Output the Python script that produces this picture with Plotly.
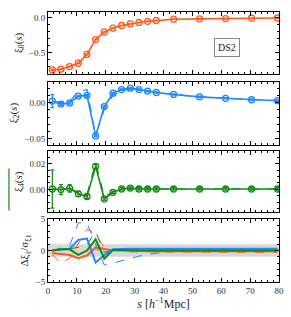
import plotly.graph_objects as go

s = [1.5, 4.5, 7.5, 10.5, 13.5, 16.5, 19.5, 22.5, 25.5, 28.5, 31.5, 34.5, 37.5, 43.5, 52.5, 61.5, 70.5, 79.5]

xi0 = [-0.753, -0.743, -0.705, -0.657, -0.529, -0.314, -0.204, -0.147, -0.110, -0.086, -0.067, -0.050, -0.038, -0.019, -0.014, -0.010, -0.005, -0.002]
xi0_err = [0.01, 0.006, 0.005, 0.004, 0.004, 0.003, 0.003, 0.002, 0.002, 0.002, 0.002, 0.002, 0.001, 0.001, 0.001, 0.001, 0.001, 0.001]

xi2 = [0.0022, -0.002, -0.0005, 0.009, 0.010, -0.046, -0.0055, 0.013, 0.018, 0.020, 0.018, 0.016, 0.014, 0.0113, 0.008, 0.006, 0.004, 0.0027]
xi2_err = [0.009, 0.002, 0.0015, 0.0012, 0.001, 0.001, 0.001, 0.001, 0.001, 0.001, 0.001, 0.001, 0.001, 0.001, 0.001, 0.001, 0.001, 0.001]
xi2_alt = [0.0022, 0.0, 0.001, 0.016, 0.018, -0.045, -0.009, 0.010, 0.016, 0.019, 0.018, 0.016, 0.014, 0.0113, 0.008, 0.006, 0.004, 0.0027]

xi4 = [0.0003, -0.0002, 0.0008, -0.0035, -0.0056, 0.018, -0.0074, -0.0023, 0.0003, 0.001, 0.0003, 0.0003, 0.0003, 0.0003, 0.0003, 0.0003, 0.0003, 0.0003]
xi4_err = [0.015, 0.004, 0.003, 0.002, 0.0015, 0.0015, 0.001, 0.001, 0.001, 0.001, 0.001, 0.001, 0.001, 0.001, 0.001, 0.001, 0.001, 0.001]
xi4_alt = [0.0003, -0.0001, 0.001, -0.0025, -0.004, 0.021, -0.006, -0.002, 0.0003, 0.001, 0.0003, 0.0003, 0.0003, 0.0003, 0.0003, 0.0003, 0.0003, 0.0003]

d0_solid = [-0.4, -0.5, -0.7, -1.2, -0.8, 0.5, 0.2, 0.0, 0.0, -0.05, -0.05, -0.05, -0.1, -0.1, -0.1, -0.1, -0.1, -0.1]
d0_dash = [-0.6, -2.1, -1.2, 1.2, 3.4, 2.6, 0.5, 0.1, -0.1, -0.2, -0.2, -0.2, -0.3, -0.3, -0.3, -0.3, -0.3, -0.3]
d2_solid = [0.0, 0.1, 0.3, 1.7, 1.9, -1.9, -0.7, 0.2, 0.3, 0.3, 0.3, 0.3, 0.3, 0.3, 0.3, 0.3, 0.3, 0.3]
d2_dash = [0.0, 0.4, 0.8, 4.4, 4.4, 1.0, -2.3, -2.0, -1.6, -1.2, -0.9, -0.6, -0.4, -0.1, 0.1, 0.2, 0.2, 0.2]
d4_solid = [0.0, 0.2, 0.2, -0.7, 0.0, 1.8, -1.3, 0.1, 0.1, 0.0, 0.0, 0.0, 0.0, 0.0, 0.0, 0.0, 0.0, 0.0]
d4_dash = [0.0, 0.1, 0.3, 0.5, 0.9, 3.0, -0.3, 0.2, 0.0, 0.0, 0.0, 0.0, 0.0, 0.0, 0.0, 0.0, 0.0, 0.0]

x_ticks = [0, 10, 20, 30, 40, 50, 60, 70, 80]

ORANGE = "#ff5a1f"
BLUE = "#1e88ff"
GREEN = "#138a13"
FONT = "Liberation Serif"

fig = go.Figure()

def data_trace(y, err, color, xa, ya):
    return go.Scatter(x=s, y=y, mode="lines+markers", xaxis=xa, yaxis=ya,
                      line=dict(color=color, width=1.6),
                      marker=dict(symbol="circle-open", size=6, color=color, line=dict(width=1.3, color=color)),
                      error_y=dict(type="data", array=err, color=color, thickness=1.2, width=2),
                      showlegend=False)

def dash_trace(y, color, xa, ya, width=1.2):
    return go.Scatter(x=s, y=y, mode="lines", xaxis=xa, yaxis=ya,
                      line=dict(color=color, width=width, dash="dash"), showlegend=False)

fig.add_trace(data_trace(xi0, xi0_err, ORANGE, "x", "y"))
fig.add_trace(dash_trace(xi2_alt, BLUE, "x2", "y2"))
fig.add_trace(data_trace(xi2, xi2_err, BLUE, "x2", "y2"))
fig.add_trace(dash_trace(xi4_alt, GREEN, "x3", "y3"))
fig.add_trace(data_trace(xi4, xi4_err, GREEN, "x3", "y3"))

for yv, c in [(d0_dash, ORANGE), (d2_dash, BLUE), (d4_dash, GREEN)]:
    fig.add_trace(dash_trace(yv, c, "x4", "y4", width=1.0))
for yv, c in [(d0_solid, ORANGE), (d2_solid, BLUE), (d4_solid, GREEN)]:
    fig.add_trace(go.Scatter(x=s, y=yv, mode="lines", xaxis="x4", yaxis="y4",
                             line=dict(color=c, width=2), showlegend=False))

fig.add_shape(type="rect", xref="x4", yref="y4", x0=0, x1=80, y0=-1, y1=1,
              fillcolor="#d8d8d8", line=dict(width=0), layer="below")
# stray green bar at far left of the xi4 panel
fig.add_shape(type="line", xref="paper", yref="paper", x0=-0.169, x1=-0.169, y0=0.265, y1=0.42,
              line=dict(color=GREEN, width=1.2))

tickfont = dict(family=FONT, size=9, color="#333")
common = dict(showline=True, linecolor="black", linewidth=1, mirror="ticks",
              ticks="inside", ticklen=4, tickcolor="black", showgrid=False, zeroline=False,
              tickfont=tickfont)

def yax(domain, rng, dtick, minor_d, title, xa, fmt):
    return dict(domain=domain, range=rng, dtick=dtick, anchor=xa, tickformat=fmt,
                minor=dict(dtick=minor_d, ticks="inside", ticklen=2, tickcolor="black"),
                title=dict(text=title, font=dict(family=FONT, size=11, color="#222"), standoff=4),
                **common)

def xax(ya, labels):
    d = dict(domain=[0, 1], range=[0, 80], tickmode="array", tickvals=x_ticks, anchor=ya,
             showticklabels=labels,
             minor=dict(dtick=2, ticks="inside", ticklen=2, tickcolor="black"),
             **common)
    if labels:
        d["title"] = dict(text="<i>s</i> [<i>h</i><sup>−1</sup>Mpc]",
                          font=dict(family=FONT, size=12, color="#222"), standoff=0)
    return d

fig.update_layout(
    width=291, height=317,
    margin=dict(l=48, r=12, t=7, b=35),
    plot_bgcolor="white", paper_bgcolor="white",
    xaxis=xax("y", False),
    xaxis2=xax("y2", False),
    xaxis3=xax("y3", False),
    xaxis4=xax("y4", True),
    yaxis=yax([0.771, 1.0], [-0.81, 0.085], 0.5, 0.1, "ξ<sub>0</sub>(<i>s</i>)", "x", ".1f"),
    yaxis2=yax([0.509, 0.742], [-0.058, 0.029], 0.05, 0.01, "ξ<sub>2</sub>(<i>s</i>)", "x2", ".2f"),
    yaxis3=yax([0.258, 0.484], [-0.018, 0.0298], 0.02, 0.005, "ξ<sub>4</sub>(<i>s</i>)", "x3", ".2f"),
    yaxis4=yax([0.0, 0.233], [-5, 5], 5, 1, "Δξ<sub>ℓ</sub>/σ<sub>ξℓ</sub>", "x4", "d"),
)

fig.add_annotation(x=0.83, y=0.905, xref="paper", yref="paper", text="DS2", showarrow=False,
                   font=dict(family=FONT, size=10, color="#222"), bordercolor="#888", borderwidth=1,
                   borderpad=3, bgcolor="white")

fig.write_html("out.html", config={"displayModeBar": False},
               post_script="document.body.style.margin='0';document.body.style.overflow='hidden';")
